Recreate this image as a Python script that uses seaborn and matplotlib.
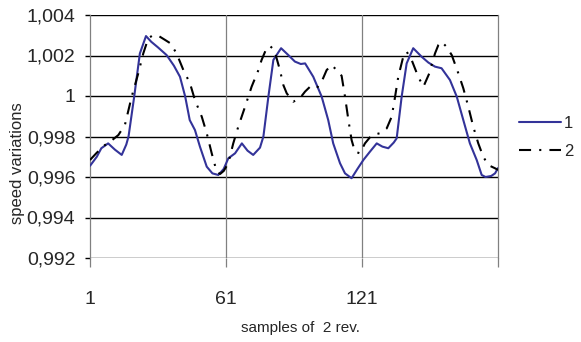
import matplotlib
matplotlib.use("Agg")
import matplotlib.pyplot as plt
from matplotlib import font_manager
from matplotlib.ticker import FuncFormatter, FixedLocator
import seaborn as sns
import pandas as pd

# ---- data ----
s1_x = [1, 4, 6, 9, 12, 15, 17, 18, 20.5, 23, 25.7, 28, 31, 34.8, 38, 40.7, 43, 45,
        47.3, 49.5, 52.5, 55, 57.6, 60, 62, 65, 68, 70.5, 73, 76, 77.5, 79.7, 81.9,
        85.3, 88.5, 91.4, 94, 95.9, 99.5, 103.2, 106.1, 108.3, 111.3, 113.5, 116.4,
        119, 121.6, 124.5, 127.5, 130, 132.6, 135, 136.3, 138.5, 140.7, 143.6, 147.3,
        150.3, 153.2, 156.1, 159.8, 162.8, 165.7, 168.6, 171.6, 173.8, 175.5, 178,
        179.7, 181]
s1_y = [0.99655, 0.99700, 0.99742, 0.99766, 0.99735, 0.99709, 0.99760, 0.99800,
        0.99997, 1.00210, 1.00296, 1.00268, 1.00240, 1.00202, 1.00150, 1.00095,
        0.99997, 0.99881, 0.99832, 0.99750, 0.99651, 0.99618, 0.99610, 0.99640,
        0.99692, 0.99717, 0.99766, 0.99730, 0.99709, 0.99745, 0.99800, 0.99997,
        1.00178, 1.00236, 1.00202, 1.00170, 1.00158, 1.00161, 1.00095, 0.99997,
        0.99881, 0.99766, 0.99668, 0.99618, 0.99594, 0.99640, 0.99684, 0.99725,
        0.99766, 0.99750, 0.99742, 0.99770, 0.99791, 0.99997, 1.00161, 1.00236,
        1.00194, 1.00165, 1.00145, 1.00137, 1.00079, 0.99997, 0.99881, 0.99766,
        0.99684, 0.99610, 0.99600, 0.99605, 0.99618, 0.99644]

s2_x = [1, 4, 7.6, 10.5, 13.5, 16.4, 19.4, 22.3, 24.5, 26.7, 28.9, 31.5, 34.1, 36.5,
        39.2, 42.2, 45.1, 47.3, 50.3, 52.5, 54.7, 56.9, 58.4, 60, 62, 64.2, 66.4,
        69.4, 72.3, 75.3, 76.7, 78.9, 80.4, 82.3, 84.8, 86.3, 87.8, 90.7, 93.6, 95.9,
        98.1, 101, 103.2, 105.4, 107.6, 109.8, 112, 113.5, 115, 116.4, 117.9, 120.1,
        122.3, 125.3, 128.9, 131.9, 134.1, 135.6, 137, 139.2, 140.7, 142.9, 145.8,
        148.1, 150.7, 153.2, 154.7, 156.1, 158.3, 160.6, 163.5, 165.7, 167.9, 170.1,
        172.3, 174.5, 176.7, 179.7, 181]
s2_y = [0.99684, 0.99720, 0.99758, 0.99780, 0.99807, 0.99857, 0.99997, 1.00112,
        1.00210, 1.00285, 1.00301, 1.00295, 1.00277, 1.00260, 1.00210, 1.00128,
        1.00063, 0.99980, 0.99898, 0.99816, 0.99717, 0.99626, 0.99615, 0.99630,
        0.99668, 0.99766, 0.99848, 0.99947, 1.00046, 1.00128, 1.00178, 1.00236,
        1.00247, 1.00227, 1.00128, 1.00054, 1.00013, 0.99972, 0.99989, 1.00022,
        1.00046, 1.00038, 1.00071, 1.00128, 1.00153, 1.00128, 1.00100, 0.99997,
        0.99881, 0.99783, 0.99725, 0.99717, 0.99766, 0.99807, 0.99816, 0.99840,
        0.99898, 0.99997, 1.00095, 1.00194, 1.00219, 1.00178, 1.00095, 1.00046,
        1.00112, 1.00210, 1.00252, 1.00268, 1.00243, 1.00202, 1.00112, 1.00038,
        0.99947, 0.99848, 0.99766, 0.99700, 0.99659, 0.99643, 0.99635]

series_names = ["1", "2"]
x_ticks = [1, 61, 121, 181]
x_tick_labels = ["1", "61", "121", ""]
y_ticks = [0.992, 0.994, 0.996, 0.998, 1.0, 1.002, 1.004]
x_label = "samples of  2 rev."
y_label = "speed variations"

# ---- style ----
sns.set_style("white")
avail = {f.name for f in font_manager.fontManager.ttflist}
fam = "Liberation Sans Narrow" if "Liberation Sans Narrow" in avail else "Liberation Sans"
plt.rcParams["font.family"] = [fam, "DejaVu Sans"]

df = pd.concat([
    pd.DataFrame({"sample": s1_x, "value": s1_y, "series": series_names[0]}),
    pd.DataFrame({"sample": s2_x, "value": s2_y, "series": series_names[1]}),
], ignore_index=True)

fig = plt.figure(figsize=(5.81, 3.42), dpi=100)
ax = fig.add_axes([90 / 581, 1 - 258 / 342, (498 - 90) / 581, (258 - 15) / 342])

blue = "#333399"
sns.lineplot(data=df, x="sample", y="value", hue="series", style="series",
             palette={"1": blue, "2": "black"},
             dashes={"1": "", "2": (5.8, 3.9, 1.0, 3.9)},
             estimator=None, sort=False, linewidth=1.5, legend=False, ax=ax, zorder=3)

ax.set_xlim(1, 181)
ax.set_ylim(0.992, 1.004)
ax.xaxis.set_major_locator(FixedLocator(x_ticks))
ax.set_xticklabels(x_tick_labels)
ax.yaxis.set_major_locator(FixedLocator(y_ticks))


def fmt(v, pos):
    s = f"{v:.3f}".rstrip("0").rstrip(".")
    return s.replace(".", ",")


ax.yaxis.set_major_formatter(FuncFormatter(fmt))

# grid: horizontal black, vertical gray
ax.grid(False)
for yv in y_ticks:
    ax.axhline(yv, color="black", lw=1.0, zorder=1)
for xv in x_ticks[1:3]:
    ax.axvline(xv, color="#808080", lw=0.9, zorder=1)

for side in ["left", "right"]:
    ax.spines[side].set_color("#808080")
    ax.spines[side].set_linewidth(0.9)
for side in ["top", "bottom"]:
    ax.spines[side].set_visible(False)

ax.tick_params(axis="x", direction="out", length=6.5, width=0.9, color="#808080",
               pad=17, labelsize=14, bottom=True)
ax.tick_params(axis="y", direction="out", length=3.6, width=1.0, color="black",
               pad=7, labelsize=14, left=True)

ax.set_xlabel(x_label, fontsize=11)
ax.set_ylabel(y_label, fontsize=12)
ax.xaxis.set_label_coords((300 - 90) / 408, -(321 - 258) / 243)
ax.yaxis.set_label_coords(-(90 - 25) / 408, 0.5 - (163 - 136.5) / 243)

lines = ax.get_lines()[:2]
leg = fig.legend(lines, series_names, loc="center left",
                 bbox_to_anchor=(519 / 581, 1 - 137.5 / 342), frameon=False,
                 fontsize=12, handlelength=2.5, handletextpad=0.2,
                 labelspacing=0.75, borderpad=0, borderaxespad=0)

fig.savefig("out.png", dpi=100)
